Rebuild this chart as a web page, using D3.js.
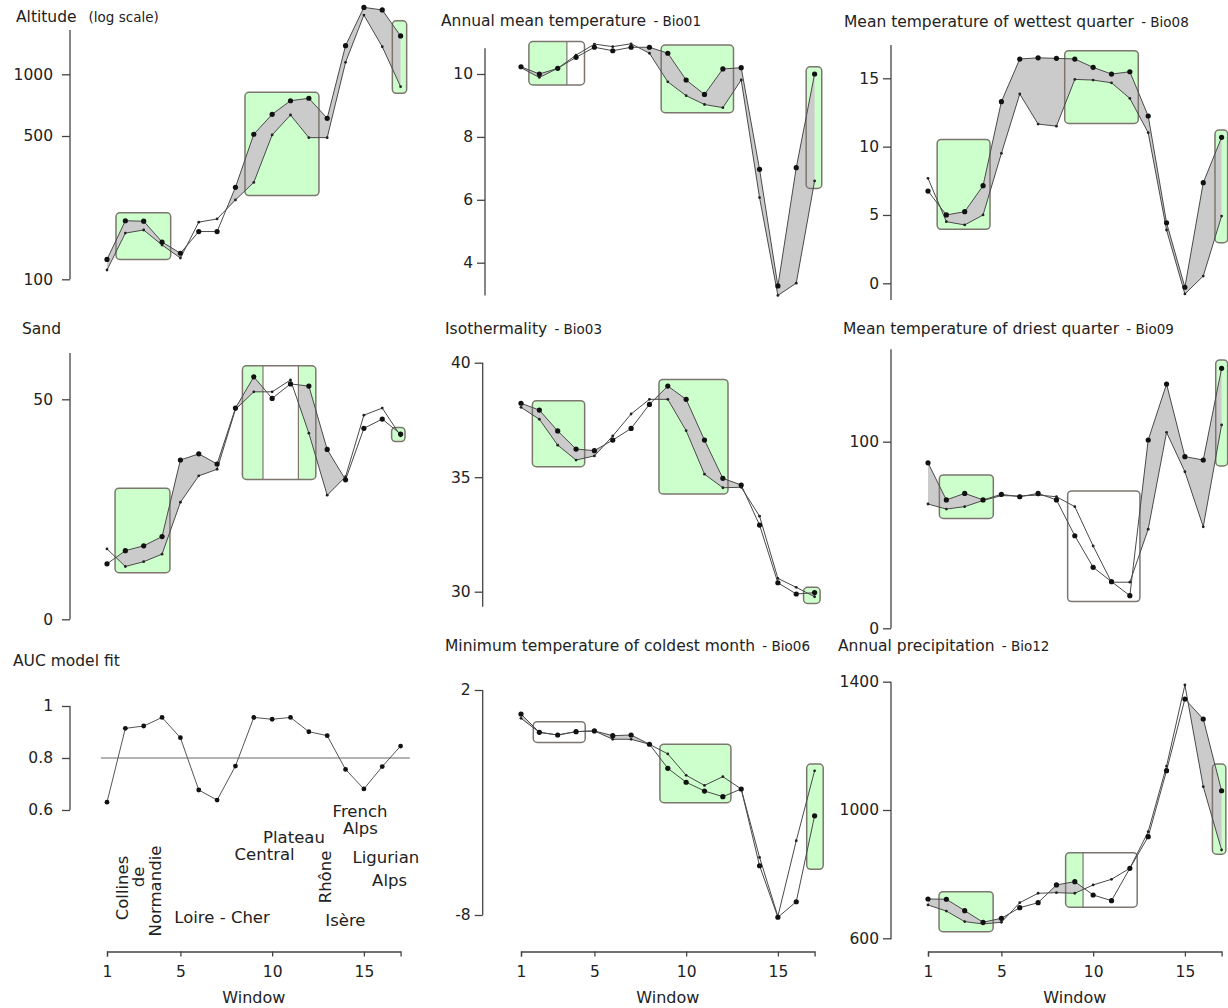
<!DOCTYPE html>
<html lang="en">
<head>
<meta charset="UTF-8">
<title>Variables along the sampling windows</title>
<script src="https://cdn.jsdelivr.net/npm/d3@7"></script>
<style>
    html, body {
        margin: 0;
        padding: 0;
        background: #ffffff;
    }

    svg {
        display: block;
        font-family: "DejaVu Sans", sans-serif;
    }

    .title {
        font-size: 15.5px;
        fill: #222;
    }

    .sub {
        font-size: 13.5px;
    }

    .axis text {
        font-family: "DejaVu Sans", sans-serif;
        font-size: 15.5px;
        fill: #222;
    }

    .axis line, .axis path {
        stroke: #444;
        stroke-width: 1.3px;
    }

    .region {
        font-size: 16.5px;
        fill: #222;
    }
</style>
</head>
<body>
<svg id="chart" width="1228" height="1008"></svg>
<script>
    // ---- data ----
    const windows = [1, 2, 3, 4, 5, 6, 7, 8, 9, 10, 11, 12, 13, 14, 15, 16, 17];
    const xTicks = [1, 5, 10, 15];

    const altitudeLarge = [125, 193, 192, 152, 134, 171, 171, 281, 510, 638, 743, 764, 610, 1379, 2120, 2060, 1538];
    const altitudeSmall = [111, 168, 174, 147, 127, 190, 197, 244, 297, 506, 633, 491, 491, 1144, 1945, 1363, 870];
    const altitudeTicks = [100, 500, 1000];

    const bio01Large = [10.23, 10.0, 10.18, 10.53, 10.85, 10.74, 10.85, 10.85, 10.66, 9.81, 9.35, 10.16, 10.2, 6.97, 3.26, 7.02, 10.0];
    const bio01Small = [10.2, 9.89, 10.18, 10.6, 10.95, 10.87, 10.96, 10.66, 9.75, 9.31, 9.03, 8.93, 9.81, 6.07, 2.96, 3.35, 6.6];
    const bio01Ticks = [4, 6, 8, 10];

    const bio08Large = [6.75, 5.0, 5.24, 7.14, 13.29, 16.41, 16.5, 16.46, 16.41, 15.8, 15.31, 15.48, 12.24, 4.43, -0.29, 7.36, 10.68];
    const bio08Small = [7.68, 4.51, 4.27, 5.0, 9.51, 13.85, 11.65, 11.5, 14.92, 14.87, 14.67, 13.53, 11.02, 3.9, -0.78, 0.53, 4.92];
    const bio08Ticks = [0, 5, 10, 15];

    const sandLarge = [12.6, 15.6, 16.7, 18.8, 36.2, 37.6, 35.3, 48.0, 55.1, 50.2, 53.5, 53.0, 38.6, 31.7, 43.4, 45.5, 42.1];
    const sandSmall = [16.0, 12.0, 13.1, 14.8, 26.6, 32.6, 34.1, 47.7, 51.7, 51.7, 54.4, 42.3, 28.2, 32.4, 46.4, 48.0, 41.7];
    const sandTicks = [0, 50];

    const bio03Large = [38.23, 37.93, 37.02, 36.23, 36.16, 36.62, 37.13, 38.18, 38.98, 38.4, 36.62, 34.95, 34.66, 32.91, 30.39, 29.9, 29.96];
    const bio03Small = [38.05, 37.53, 36.4, 35.75, 35.93, 36.8, 37.76, 38.4, 38.4, 37.03, 35.13, 34.54, 34.56, 33.3, 30.58, 30.19, 29.78];
    const bio03Ticks = [30, 35, 40];

    const bio09Large = [88.7, 68.8, 72.3, 68.8, 71.8, 70.5, 72.3, 68.8, 49.6, 32.7, 25.0, 17.5, 100.9, 130.9, 92.0, 90.2, 139.3];
    const bio09Small = [66.6, 63.9, 65.2, 68.5, 71.1, 70.9, 71.4, 70.5, 65.2, 44.1, 24.7, 24.7, 53.1, 105.0, 83.9, 54.4, 109.0];
    const bio09Ticks = [0, 100];

    const auc = [0.63, 0.914, 0.923, 0.956, 0.878, 0.677, 0.638, 0.769, 0.956, 0.949, 0.956, 0.901, 0.886, 0.756, 0.681, 0.767, 0.846];
    const aucTicks = [0.6, 0.8, 1];
    const aucThreshold = 0.8;

    const bio06Large = [0.93, 0.12, 0.0, 0.15, 0.18, -0.03, 0.0, -0.41, -1.48, -2.1, -2.49, -2.74, -2.4, -5.81, -8.1, -7.41, -3.59];
    const bio06Small = [0.74, 0.12, 0.0, 0.15, 0.18, -0.19, -0.19, -0.41, -0.84, -1.79, -2.24, -1.85, -2.4, -5.44, -8.06, -4.7, -1.59];
    const bio06Ticks = [-8, 2];

    const bio12Large = [722.6, 721.7, 686.2, 650, 662.4, 695.5, 711, 766.3, 776.6, 735, 717.4, 818.3, 916.8, 1122.6, 1346, 1283.7, 1060];
    const bio12Small = [703.9, 685, 652, 644.7, 650, 711, 740.4, 742.3, 740.4, 766.3, 784, 818.3, 932.4, 1137, 1389.7, 1072.7, 875.3];
    const bio12Ticks = [600, 1000, 1400];

    // highlighted windows: [from, to, low, high, [[from, to, "g" | "w"], ...]]
    const altitudeBoxes = [
        [1.49, 4.47, 125, 211, [[1.49, 4.47, "g"]]],
        [8.52, 12.55, 256, 817, [[8.52, 12.55, "g"]]],
        [16.55, 17.33, 808, 1825, [[16.55, 17.33, "g"]]]
    ];
    const bio01Boxes = [
        [1.43, 4.46, 9.65, 11.03, [[1.43, 3.5, "g"], [3.5, 4.46, "w"]]],
        [8.64, 12.58, 8.77, 10.92, [[8.64, 12.58, "g"]]],
        [16.54, 17.39, 6.36, 10.23, [[16.54, 17.39, "g"]]]
    ];
    const bio08Boxes = [
        [1.5, 4.38, 3.95, 10.53, [[1.5, 4.38, "g"]]],
        [8.45, 12.46, 11.7, 17.02, [[8.45, 12.46, "g"]]],
        [16.64, 17.33, 2.97, 11.21, [[16.64, 17.33, "g"]]]
    ];
    const sandBoxes = [
        [1.44, 4.43, 10.6, 29.8, [[1.44, 4.43, "g"]]],
        [8.38, 12.38, 31.8, 57.6, [[8.38, 9.5, "g"], [9.5, 11.43, "w"], [11.43, 12.38, "g"]]],
        [16.51, 17.24, 40.4, 43.6, [[16.51, 17.24, "g"]]]
    ];
    const bio03Boxes = [
        [1.62, 4.47, 35.46, 38.34, [[1.62, 4.47, "g"]]],
        [8.52, 12.28, 34.27, 39.27, [[8.52, 12.28, "g"]]],
        [16.4, 17.3, 29.49, 30.19, [[16.4, 17.3, "g"]]]
    ];
    const bio09Boxes = [
        [1.62, 4.56, 58.9, 82.2, [[1.62, 4.56, "g"]]],
        [8.61, 12.55, 14.3, 73.6, [[8.61, 12.55, "w"]]],
        [16.68, 17.33, 87, 143.8, [[16.68, 17.33, "g"]]]
    ];
    const bio06Boxes = [
        [1.67, 4.5, -0.33, 0.59, [[1.67, 4.5, "w"]]],
        [8.57, 12.44, -3.01, -0.41, [[8.57, 12.44, "g"]]],
        [16.57, 17.47, -5.97, -1.29, [[16.57, 17.47, "g"]]]
    ];
    const bio12Boxes = [
        [1.6, 4.55, 620.7, 745.4, [[1.6, 4.55, "g"]]],
        [8.5, 12.4, 697, 867, [[8.5, 9.45, "g"], [9.45, 12.4, "w"]]],
        [16.5, 17.23, 862, 1143.4, [[16.5, 17.23, "g"]]]
    ];

    const regionLabels = [
        {text: "Collines", w: 1.8, y: 888, rot: true},
        {text: "de", w: 2.71, y: 877, rot: true},
        {text: "Normandie", w: 3.63, y: 891, rot: true},
        {text: "Loire - Cher", w: 7.27, y: 923},
        {text: "Plateau", w: 11.19, y: 843},
        {text: "Central", w: 9.59, y: 860},
        {text: "Rhône", w: 12.88, y: 877, rot: true},
        {text: "Isère", w: 13.99, y: 926},
        {text: "French", w: 14.79, y: 817},
        {text: "Alps", w: 14.81, y: 834},
        {text: "Ligurian", w: 16.2, y: 863},
        {text: "Alps", w: 16.4, y: 886}
    ];

    // ---- layout ----
    const colX1 = [107, 521, 928];
    const colPad = [9, 4, 4];
    const step = 18.35;
    const xAxisY = 951.5;

    const panels = [
        {key: "alt", col: 0, title: "Altitude", sub: "(log scale)", subDx: 12, tx: 16, ty: 22,
            log: true, dom: [100, 1000], pix: [279.3, 74.3], ext: [100, 1643], ax: 70,
            large: altitudeLarge, small: altitudeSmall, ticks: altitudeTicks, boxes: altitudeBoxes},
        {key: "b01", col: 1, title: "Annual mean temperature", sub: " - Bio01", tx: 441, ty: 26,
            dom: [4, 10], pix: [262.7, 74], ext: [2.96, 10.82], ax: 485,
            large: bio01Large, small: bio01Small, ticks: bio01Ticks, boxes: bio01Boxes},
        {key: "b08", col: 2, title: "Mean temperature of wettest quarter", sub: " - Bio08", tx: 844, ty: 26.5,
            dom: [0, 15], pix: [283.3, 78.3], ext: [-1.22, 17.43], ax: 891,
            large: bio08Large, small: bio08Small, ticks: bio08Ticks, boxes: bio08Boxes},
        {key: "sand", col: 0, title: "Sand", tx: 22, ty: 333.5,
            dom: [0, 50], pix: [619.3, 399.3], ext: [0, 60.5], ax: 70,
            large: sandLarge, small: sandSmall, ticks: sandTicks, boxes: sandBoxes},
        {key: "b03", col: 1, title: "Isothermality", sub: " - Bio03", tx: 445, ty: 333.5,
            dom: [30, 40], pix: [591.7, 362.7], ext: [29.34, 40], ax: 482.7,
            large: bio03Large, small: bio03Small, ticks: bio03Ticks, boxes: bio03Boxes},
        {key: "b09", col: 2, title: "Mean temperature of driest quarter", sub: " - Bio09", tx: 843, ty: 334,
            dom: [0, 100], pix: [628.3, 441.7], ext: [0, 149.5], ax: 891,
            large: bio09Large, small: bio09Small, ticks: bio09Ticks, boxes: bio09Boxes},
        {key: "auc", col: 0, title: "AUC model fit", tx: 13, ty: 665.5,
            dom: [0.6, 1], pix: [810, 706], ext: [0.6, 1], ax: 70,
            single: auc, ticks: aucTicks, xAxis: true},
        {key: "b06", col: 1, title: "Minimum temperature of coldest month", sub: " - Bio06", tx: 445, ty: 651,
            dom: [-8, 2], pix: [915, 690], ext: [-8, 2], ax: 482.7,
            large: bio06Large, small: bio06Small, ticks: bio06Ticks, boxes: bio06Boxes, xAxis: true},
        {key: "b12", col: 2, title: "Annual precipitation", sub: " - Bio12", tx: 838, ty: 651,
            dom: [600, 1400], pix: [938.3, 681.7], ext: [597, 1400], ax: 891,
            large: bio12Large, small: bio12Small, ticks: bio12Ticks, boxes: bio12Boxes, xAxis: true}
    ];

    const svg = d3.select("#chart");
    const defs = svg.append("defs");

    const lineColor = "#4a4a4a";
    const boxStroke = "#7d766f";

    panels.forEach(function (p) {
        const x0 = colX1[p.col];
        const x = d3.scaleLinear().domain([1, 17]).range([x0, x0 + 16 * step]);
        const y = (p.log ? d3.scaleLog() : d3.scaleLinear()).domain(p.dom).range(p.pix);

        const g = svg.append("g").attr("class", "panel " + p.key);

        // title
        const t = g.append("text").attr("class", "title")
            .attr("x", p.tx).attr("y", p.ty).text(p.title);
        if (p.sub) t.append("tspan").attr("class", "sub").attr("dx", p.subDx || 3).text(p.sub);

        // y axis
        const yAxis = g.append("g").attr("class", "axis")
            .attr("transform", "translate(" + p.ax + ",0)")
            .call(d3.axisLeft(y).tickValues(p.ticks).tickSize(8).tickPadding(colPad[p.col])
                .tickFormat(function (d) { return String(d); }));
        yAxis.select(".domain").remove();
        yAxis.append("line")
            .attr("x1", 0).attr("x2", 0)
            .attr("y1", y(p.ext[0])).attr("y2", y(p.ext[1]))
            .attr("stroke", "#444").attr("stroke-width", 1.3);

        // x axis (bottom row)
        if (p.xAxis) {
            g.append("g").attr("class", "axis")
                .attr("transform", "translate(0," + xAxisY + ")")
                .call(d3.axisBottom(x).tickValues(xTicks).tickSize(5).tickSizeOuter(5).tickPadding(9));
            g.append("text").attr("class", "title")
                .attr("x", (x(1) + x(17)) / 2).attr("y", 1003)
                .attr("text-anchor", "middle").style("font-size", "16px")
                .text("Window");
        }

        const layerGreen = g.append("g");
        const layerBand = g.append("g");
        const layerWhite = g.append("g");
        const layerBox = g.append("g");
        const layerLine = g.append("g");
        const layerDot = g.append("g");

        // highlight boxes
        (p.boxes || []).forEach(function (b, i) {
            const id = "clip-" + p.key + "-" + i;
            const bx = x(b[0]), bw = x(b[1]) - x(b[0]);
            const by = y(b[3]), bh = y(b[2]) - y(b[3]);
            defs.append("clipPath").attr("id", id)
                .append("rect").attr("x", bx).attr("y", by)
                .attr("width", bw).attr("height", bh).attr("rx", 4);
            b[4].forEach(function (part) {
                const layer = part[2] === "g" ? layerGreen : layerWhite;
                layer.append("rect")
                    .attr("clip-path", "url(#" + id + ")")
                    .attr("x", x(part[0])).attr("y", by)
                    .attr("width", x(part[1]) - x(part[0])).attr("height", bh)
                    .attr("fill", part[2] === "g" ? "#ccffcc" : "#ffffff");
            });
            b[4].slice(1).forEach(function (part) {
                layerBox.append("line")
                    .attr("x1", x(part[0])).attr("x2", x(part[0]))
                    .attr("y1", by).attr("y2", by + bh)
                    .attr("stroke", boxStroke).attr("stroke-width", 1.2);
            });
            layerBox.append("rect")
                .attr("x", bx).attr("y", by).attr("width", bw).attr("height", bh)
                .attr("rx", 4).attr("fill", "none")
                .attr("stroke", boxStroke).attr("stroke-width", 1.5);
        });

        const line = d3.line()
            .x(function (d, i) { return x(windows[i]); })
            .y(function (d) { return y(d); });

        if (p.single) {
            layerLine.append("line")
                .attr("x1", x(0.67)).attr("x2", x(17.5))
                .attr("y1", y(aucThreshold)).attr("y2", y(aucThreshold))
                .attr("stroke", "#666").attr("stroke-width", 1);
            layerLine.append("path").datum(p.single)
                .attr("d", line).attr("fill", "none")
                .attr("stroke", "#555").attr("stroke-width", 1);
            layerDot.selectAll("circle").data(p.single).enter().append("circle")
                .attr("cx", function (d, i) { return x(windows[i]); })
                .attr("cy", function (d) { return y(d); })
                .attr("r", 2.4).attr("fill", "#111");

            regionLabels.forEach(function (r) {
                const tx = x(r.w);
                const lab = g.append("text").attr("class", "region")
                    .attr("text-anchor", "middle").text(r.text);
                if (r.rot) {
                    lab.attr("transform", "translate(" + tx + "," + r.y + ") rotate(-90)")
                        .attr("dy", "0.36em");
                } else {
                    lab.attr("x", tx).attr("y", r.y);
                }
            });
            return;
        }

        // grey band where the large-dot series lies above the small-dot one
        const yl = p.large.map(y), ys = p.small.map(y);
        const pts = [];
        for (let i = 0; i < windows.length; i++) {
            pts.push([x(windows[i]), ys[i], Math.min(yl[i], ys[i])]);
            if (i < windows.length - 1) {
                const d0 = ys[i] - yl[i], d1 = ys[i + 1] - yl[i + 1];
                if (d0 * d1 < 0) {
                    const k = d0 / (d0 - d1);
                    const px = x(windows[i]) + k * (x(windows[i + 1]) - x(windows[i]));
                    const py = ys[i] + k * (ys[i + 1] - ys[i]);
                    pts.push([px, py, py]);
                }
            }
        }
        layerBand.append("path").datum(pts)
            .attr("d", d3.area()
                .x(function (d) { return d[0]; })
                .y0(function (d) { return d[1]; })
                .y1(function (d) { return d[2]; }))
            .attr("fill", "#cbcbcb");

        [p.small, p.large].forEach(function (s) {
            layerLine.append("path").datum(s)
                .attr("d", line).attr("fill", "none")
                .attr("stroke", lineColor).attr("stroke-width", 1);
        });

        layerDot.selectAll("circle.small").data(p.small).enter().append("circle")
            .attr("class", "small")
            .attr("cx", function (d, i) { return x(windows[i]); })
            .attr("cy", function (d) { return y(d); })
            .attr("r", 1.4).attr("fill", "#222");

        layerDot.selectAll("circle.large").data(p.large).enter().append("circle")
            .attr("class", "large")
            .attr("cx", function (d, i) { return x(windows[i]); })
            .attr("cy", function (d) { return y(d); })
            .attr("r", 2.6).attr("fill", "#111");
    });
</script>
</body>
</html>
